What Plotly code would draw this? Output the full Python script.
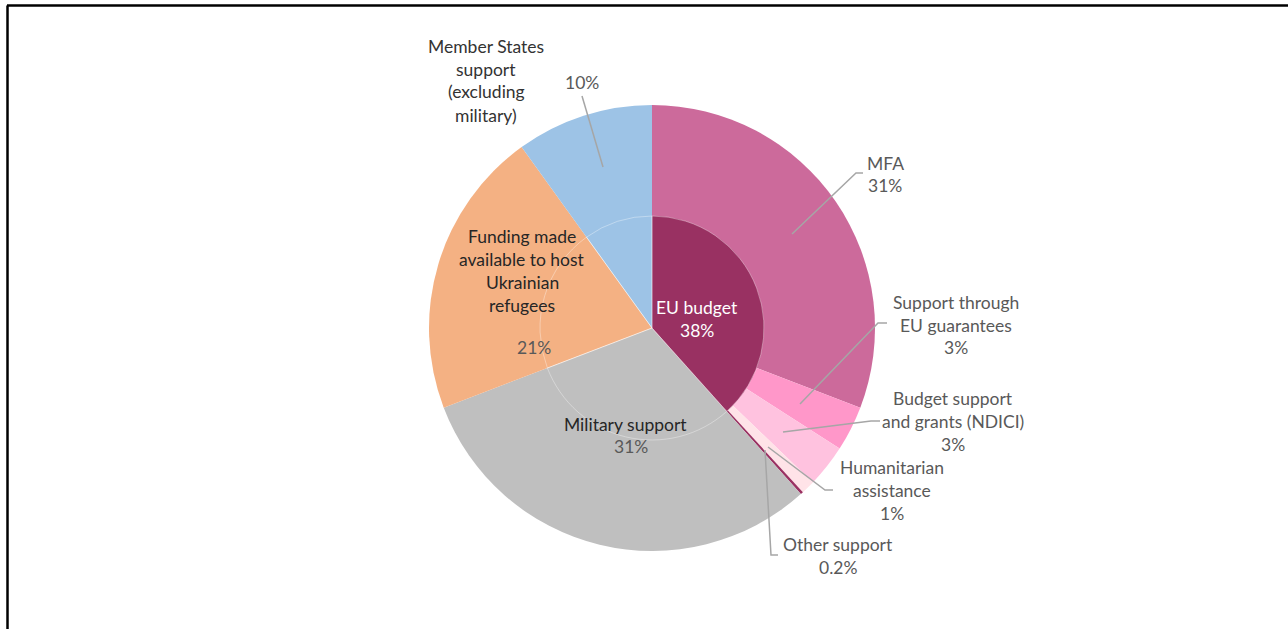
import plotly.graph_objects as go

W, H = 1288, 629

# ---- data ----
outer_labels = ["MFA", "Support through EU guarantees", "Budget support and grants (NDICI)",
                "Humanitarian assistance", "Other support", "Military support",
                "Funding made available to host Ukrainian refugees",
                "Member States support (excluding military)"]
outer_values = [31, 3.3, 3.1, 1, 0.2, 31, 21, 10]
outer_colors = ["#CC6A9B", "#FF97C9", "#FFC2DF", "#FFE3E8", "#9A3162",
                "#BFBFBF", "#F4B183", "#9DC3E6"]

inner_labels = ["EU budget", "Military support",
                "Funding made available to host Ukrainian refugees",
                "Member States support (excluding military)"]
inner_values = [38.6, 31, 21, 10]
inner_colors = ["#993162", "rgba(0,0,0,0)", "rgba(0,0,0,0)", "rgba(0,0,0,0)"]


def px(x, y):
    return x / W, 1 - y / H


cx, cy, R, r = 652, 328, 223, 112
x0, y1 = px(cx - R, cy - R)
x1, y0 = px(cx + R, cy + R)
ix0, iy1 = px(cx - r, cy - r)
ix1, iy0 = px(cx + r, cy + r)

fig = go.Figure()
fig.add_trace(go.Pie(
    labels=outer_labels, values=outer_values, sort=False, direction="clockwise",
    rotation=0, marker=dict(colors=outer_colors, line=dict(width=0)),
    textinfo="none", hoverinfo="skip", showlegend=False,
    domain=dict(x=[x0, x1], y=[y0, y1])))
fig.add_trace(go.Pie(
    labels=inner_labels, values=inner_values, sort=False, direction="clockwise",
    rotation=0, marker=dict(colors=inner_colors,
                            line=dict(color="rgba(255,255,255,0.35)", width=1)),
    textinfo="none", hoverinfo="skip", showlegend=False,
    domain=dict(x=[ix0, ix1], y=[iy0, iy1])))

annotations = []
FONT = "Lato, Carlito, sans-serif"
FS = 17.5


def text_block(lines, xc, ytop, color="#595959", step=23, size=FS):
    for i, t in enumerate(lines):
        ax, ay = px(xc, ytop + i * step)
        annotations.append(dict(x=ax, y=ay, xref="paper", yref="paper", text=t,
                                showarrow=False, xanchor="center", yanchor="middle",
                                font=dict(family=FONT, size=size, color=color)))


text_block(["Member States", "support", "(excluding", "military)"], 486, 46, "#333333")
text_block(["10%"], 582, 82)
text_block(["MFA", "31%"], 885, 163)
text_block(["Support through", "EU guarantees", "3%"], 956, 302)
text_block(["Budget support", "and grants (NDICI)", "3%"], 953, 398)
text_block(["Humanitarian", "assistance", "1%"], 892, 467)
text_block(["Other support", "0.2%"], 838, 544)
text_block(["Funding made", "available to host", "Ukrainian", "refugees"], 522, 236, "#262626")
text_block(["21%"], 534, 348)
text_block(["Military support"], 625, 424, "#262626")
text_block(["31%"], 631, 446)
text_block(["EU budget", "38%"], 697, 307, "#FFFFFF")

leaders = [
    [(603, 167), (582, 96)],
    [(792, 234), (856, 173), (863, 173)],
    [(800, 404), (878, 323), (887, 323)],
    [(783, 432), (871, 421), (880, 421)],
    [(768, 447), (825, 490), (833, 490)],
    [(765, 450), (771, 555), (778, 555)],
]
shapes = []
for pts in leaders:
    path = ""
    for i, (x, y) in enumerate(pts):
        a, b = px(x, y)
        path += ("M" if i == 0 else " L") + f"{a},{b}"
    shapes.append(dict(type="path", path=path, xref="paper", yref="paper",
                       line=dict(color="#A6A6A6", width=1.5)))

# chart-area frame (top and left edges visible)
tx0, ty = px(7, 5.5)
shapes.append(dict(type="line", xref="paper", yref="paper", x0=tx0, x1=1.0, y0=ty, y1=ty,
                   line=dict(color="black", width=2.5)))
lx, _ = px(7.5, 0)
shapes.append(dict(type="line", xref="paper", yref="paper", x0=lx, x1=lx, y0=0, y1=ty,
                   line=dict(color="black", width=2.5)))

fig.update_layout(width=W, height=H, margin=dict(l=0, r=0, t=0, b=0),
                  paper_bgcolor="white", plot_bgcolor="white",
                  annotations=annotations, shapes=shapes, showlegend=False)
fig.write_html("out.html", config={"displayModeBar": False},
               post_script="document.body.style.margin='0px';document.body.style.overflow='hidden';")
